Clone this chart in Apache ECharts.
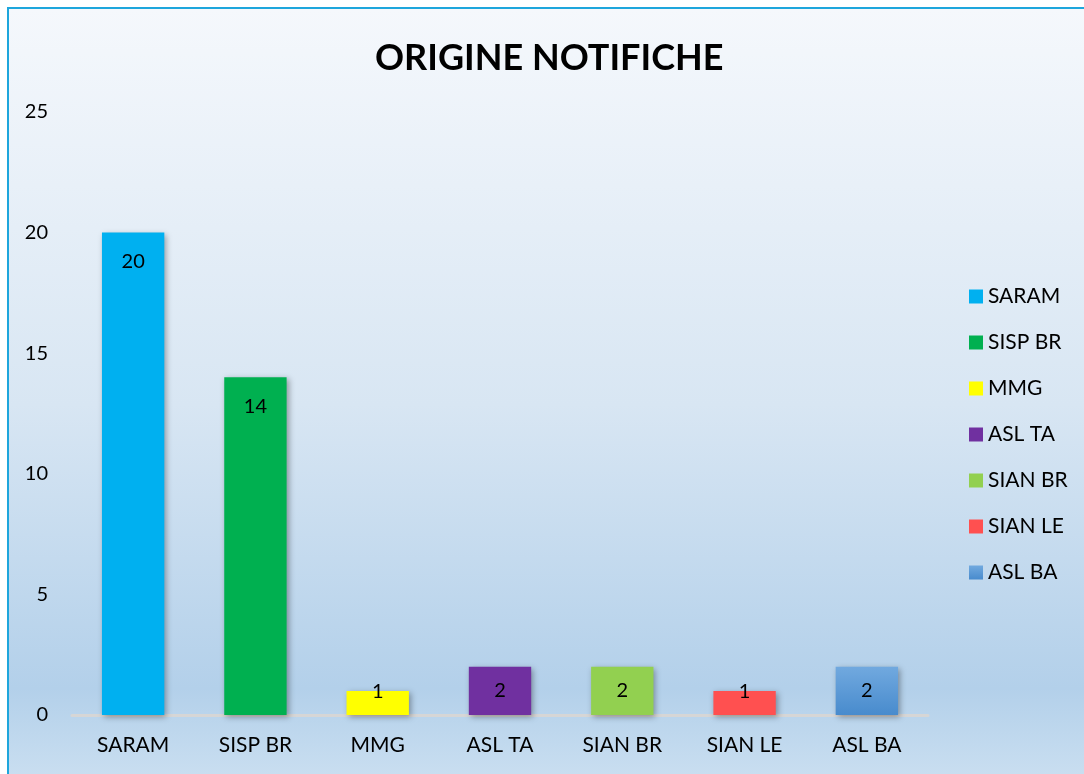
<!DOCTYPE html>
<html>
<head>
<meta charset="utf-8">
<script src="https://cdn.jsdelivr.net/npm/echarts@6/dist/echarts.min.js"></script>
<style>
  html, body { margin: 0; padding: 0; background: #fff; overflow: hidden; }
  #frame {
    position: absolute; left: 7px; top: 7px; width: 1100px; height: 790px;
    border-left: 2px solid #1ea6dc; border-top: 2px solid #1ea6dc;
    background: linear-gradient(to bottom, #f5f8fc 0%, #d8e6f3 50%, #b3d0ea 86%, #cfe2f2 100%);
  }
  #chart { position: absolute; left: -9px; top: -9px; width: 1084px; height: 774px; }
</style>
</head>
<body>
<div id="frame"><div id="chart"></div></div>
<script>
// dati del grafico
const categories = ['SARAM', 'SISP BR', 'MMG', 'ASL TA', 'SIAN BR', 'SIAN LE', 'ASL BA']
const values = [20, 14, 1, 2, 2, 1, 2]
const barColors = [
  '#00b0f0',
  '#00b050',
  '#ffff00',
  '#7030a0',
  '#92d050',
  '#ff5050',
  { type: 'linear', x: 0, y: 0, x2: 0, y2: 1, colorStops: [{ offset: 0, color: '#71a9df' }, { offset: 1, color: '#488bcd' }] },
]
const yTicks = { min: 0, max: 25, interval: 5 }

const FONT = 'Lato'
const chart = echarts.init(document.getElementById('chart'))

// etichetta dentro la barra: in alto per le barre alte, centrata per quelle basse
function labelFor(v) {
  const base = { show: true, color: '#000', fontFamily: FONT, fontSize: 20 }
  if (v >= 5) return { ...base, position: 'insideTop', distance: 19 }
  if (v >= 2) return { ...base, position: 'inside' }
  return { ...base, position: 'top', distance: -11 }
}

const series = categories.map((name, i) => ({
  name,
  type: 'bar',
  barWidth: '51%',
  barGap: '-100%',
  data: values.map((v, j) => (j === i ? v : '-')),
  itemStyle: {
    color: barColors[i],
    shadowColor: 'rgba(0, 0, 0, 0.35)',
    shadowBlur: 6,
    shadowOffsetX: 2,
    shadowOffsetY: 2,
  },
  label: labelFor(values[i]),
}))

const option = {
  animation: false,
  backgroundColor: 'transparent',
  title: {
    text: 'ORIGINE NOTIFICHE',
    left: 370,
    top: 35,
    textStyle: { fontFamily: FONT, fontWeight: 'bold', fontSize: 36, color: '#000' },
  },
  grid: { left: 72, right: 156, top: 112, bottom: 59 },
  legend: {
    orient: 'vertical',
    top: 281,
    left: 964,
    icon: 'rect',
    itemWidth: 14,
    itemHeight: 14,
    itemGap: 25,
    textStyle: { fontFamily: FONT, fontSize: 21, color: '#000', lineHeight: 19 },
    data: categories,
  },
  xAxis: {
    type: 'category',
    data: categories,
    axisTick: { show: false },
    axisLine: { lineStyle: { color: '#d6d6d6', width: 3 } },
    axisLabel: { color: '#000', fontFamily: FONT, fontSize: 21, margin: 20 },
  },
  yAxis: {
    type: 'value',
    min: yTicks.min,
    max: yTicks.max,
    interval: yTicks.interval,
    splitLine: { show: false },
    axisLine: { show: false },
    axisTick: { show: false },
    axisLabel: { color: '#000', fontFamily: FONT, fontSize: 20, margin: 24 },
  },
  series,
}

chart.setOption(option)
</script>
</body>
</html>
